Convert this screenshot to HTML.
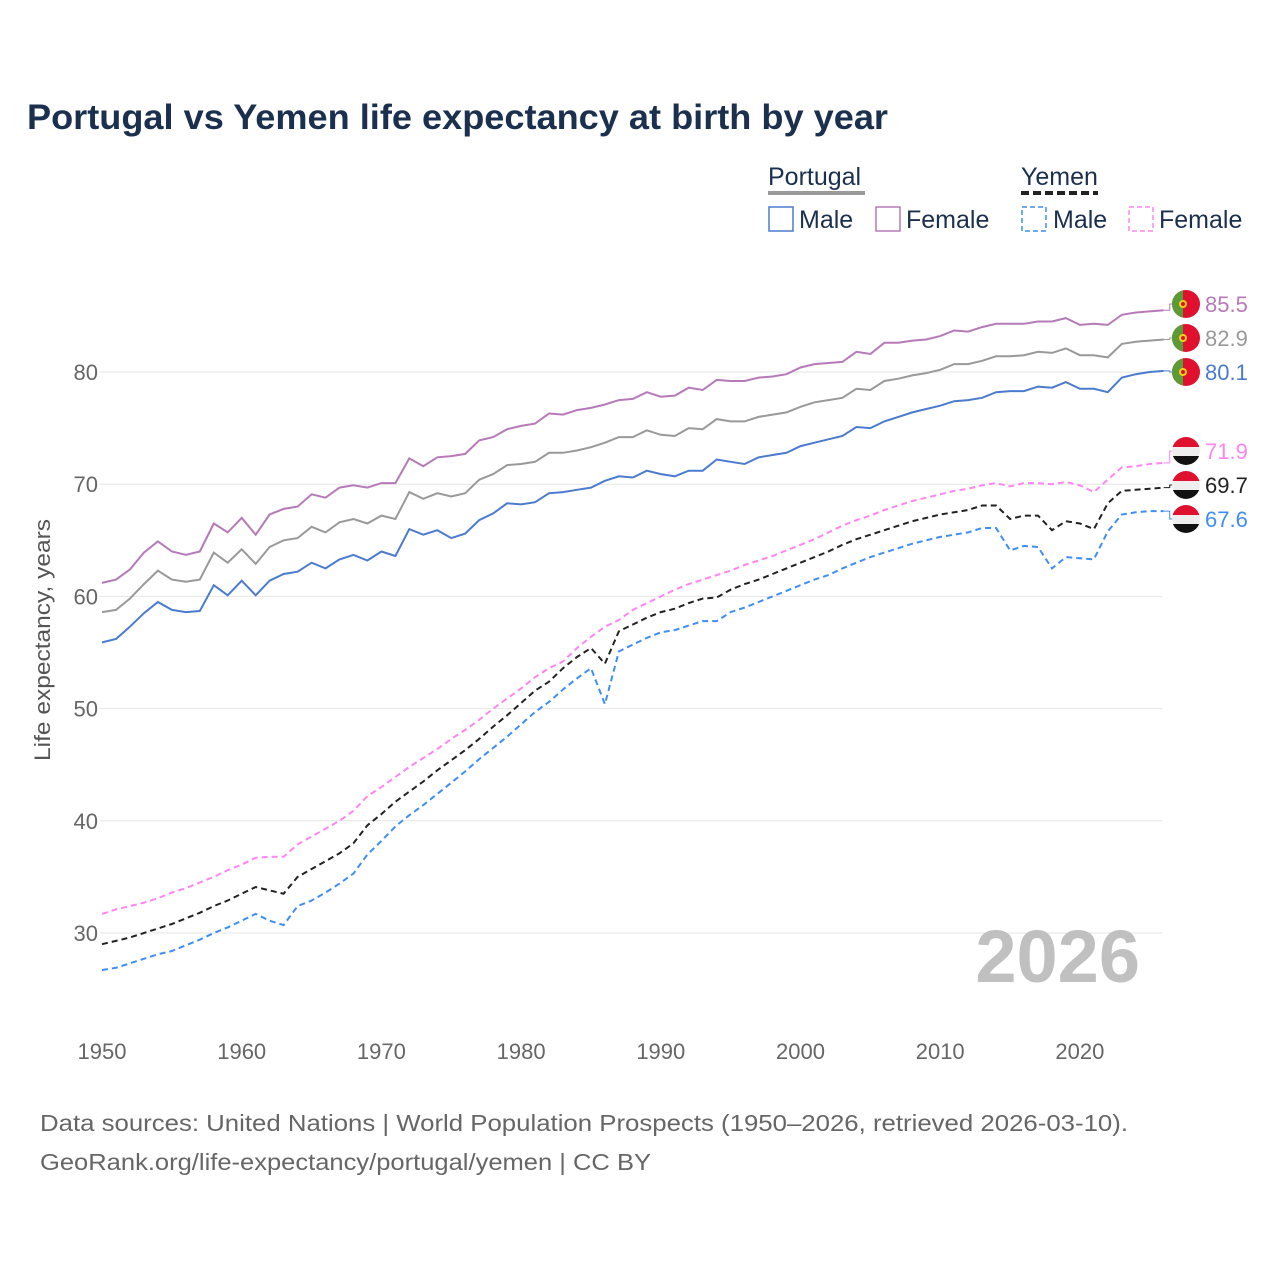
<!DOCTYPE html>
<html><head><meta charset="utf-8"><style>
body{margin:0;background:#fff;font-family:"Liberation Sans",sans-serif}
svg{display:block}
</style></head><body>
<svg id="chart" width="1280" height="1280" viewBox="0 0 1280 1280" xmlns="http://www.w3.org/2000/svg">
<text x="27" y="129" font-size="35" font-weight="bold" fill="#1b2f4e" textLength="861" lengthAdjust="spacingAndGlyphs">Portugal vs Yemen life expectancy at birth by year</text>
<g font-size="25" fill="#1b2f4e">
<text x="768" y="185">Portugal</text>
<line x1="768" y1="193" x2="865" y2="193" stroke="#999" stroke-width="4"/>
<text x="1021" y="185">Yemen</text>
<line x1="1021" y1="193" x2="1098" y2="193" stroke="#222" stroke-width="4" stroke-dasharray="8,4"/>
<g><rect x="769" y="207" width="24" height="24" fill="none" stroke="#4b7bcf" stroke-width="1.5"/><text x="799" y="228">Male</text></g>
<g><rect x="876" y="207" width="24" height="24" fill="none" stroke="#b67ab9" stroke-width="1.5"/><text x="906" y="228">Female</text></g>
<g><rect x="1022" y="207" width="24" height="24" fill="none" stroke="#3f8ef5" stroke-width="1.5" stroke-dasharray="5,3"/><text x="1053" y="228">Male</text></g>
<g><rect x="1129" y="207" width="24" height="24" fill="none" stroke="#ff85f2" stroke-width="1.5" stroke-dasharray="5,3"/><text x="1159" y="228">Female</text></g>
</g>
<text transform="translate(50,640) rotate(-90)" text-anchor="middle" font-size="22" fill="#555" textLength="242" lengthAdjust="spacingAndGlyphs">Life expectancy, years</text>
<g id="grid"></g><g id="series"></g><g id="ends"></g>
<text x="1140" y="982" text-anchor="end" font-size="74" font-weight="bold" fill="#c0c0c0">2026</text>
<text x="40" y="1131" font-size="23" fill="#666" textLength="1088" lengthAdjust="spacingAndGlyphs">Data sources: United Nations | World Population Prospects (1950–2026, retrieved 2026-03-10).</text>
<text x="40" y="1170" font-size="23" fill="#666" textLength="611" lengthAdjust="spacingAndGlyphs">GeoRank.org/life-expectancy/portugal/yemen | CC BY</text>
</svg>
<script>
const yTicks=[30,40,50,60,70,80];
const xTicks=[1950,1960,1970,1980,1990,2000,2010,2020];
const ptFemale=[61.2,61.5,62.4,63.9,64.9,64.0,63.7,64.0,66.5,65.7,67.0,65.5,67.3,67.8,68.0,69.1,68.8,69.7,69.9,69.7,70.1,70.1,72.3,71.6,72.4,72.5,72.7,73.9,74.2,74.9,75.2,75.4,76.3,76.2,76.6,76.8,77.1,77.5,77.6,78.2,77.8,77.9,78.6,78.4,79.3,79.2,79.2,79.5,79.6,79.8,80.4,80.7,80.8,80.9,81.8,81.6,82.6,82.6,82.8,82.9,83.2,83.7,83.6,84.0,84.3,84.3,84.3,84.5,84.5,84.8,84.2,84.3,84.2,85.1,85.3,85.4,85.5];
const ptTotal=[58.6,58.8,59.8,61.1,62.3,61.5,61.3,61.5,63.9,63.0,64.2,62.9,64.4,65.0,65.2,66.2,65.7,66.6,66.9,66.5,67.2,66.9,69.3,68.7,69.2,68.9,69.2,70.4,70.9,71.7,71.8,72.0,72.8,72.8,73.0,73.3,73.7,74.2,74.2,74.8,74.4,74.3,75.0,74.9,75.8,75.6,75.6,76.0,76.2,76.4,76.9,77.3,77.5,77.7,78.5,78.4,79.2,79.4,79.7,79.9,80.2,80.7,80.7,81.0,81.4,81.4,81.5,81.8,81.7,82.1,81.5,81.5,81.3,82.5,82.7,82.8,82.9];
const ptMale=[55.9,56.2,57.3,58.5,59.5,58.8,58.6,58.7,61.0,60.1,61.4,60.1,61.4,62.0,62.2,63.0,62.5,63.3,63.7,63.2,64.0,63.6,66.0,65.5,65.9,65.2,65.6,66.8,67.4,68.3,68.2,68.4,69.2,69.3,69.5,69.7,70.3,70.7,70.6,71.2,70.9,70.7,71.2,71.2,72.2,72.0,71.8,72.4,72.6,72.8,73.4,73.7,74.0,74.3,75.1,75.0,75.6,76.0,76.4,76.7,77.0,77.4,77.5,77.7,78.2,78.3,78.3,78.7,78.6,79.1,78.5,78.5,78.2,79.5,79.8,80.0,80.1];
const yeFemale=[31.7,32.1,32.4,32.7,33.1,33.6,34.0,34.5,35.0,35.6,36.1,36.7,36.8,36.8,37.9,38.6,39.3,40.0,40.9,42.2,43.0,43.9,44.8,45.6,46.4,47.3,48.1,49.0,50.0,50.9,51.8,52.8,53.6,54.2,55.4,56.4,57.3,57.9,58.8,59.4,60.0,60.6,61.1,61.5,61.9,62.3,62.8,63.2,63.6,64.1,64.6,65.1,65.7,66.3,66.8,67.2,67.7,68.1,68.5,68.8,69.1,69.4,69.6,69.9,70.1,69.8,70.1,70.1,70.0,70.2,69.9,69.3,70.4,71.5,71.6,71.8,71.9];
const yeTotal=[29.0,29.3,29.6,30.0,30.4,30.8,31.3,31.8,32.4,32.9,33.5,34.1,33.8,33.5,35.0,35.7,36.4,37.1,38.0,39.6,40.6,41.7,42.6,43.5,44.5,45.4,46.3,47.3,48.4,49.4,50.5,51.6,52.4,53.6,54.6,55.4,54.0,56.9,57.5,58.1,58.6,58.9,59.4,59.8,59.9,60.6,61.1,61.5,62.0,62.5,63.0,63.5,64.0,64.6,65.1,65.5,65.9,66.3,66.7,67.0,67.3,67.5,67.7,68.1,68.1,66.9,67.2,67.2,65.9,66.7,66.5,66.0,68.3,69.4,69.5,69.6,69.7];
const yeMale=[26.7,26.9,27.3,27.7,28.1,28.4,28.9,29.4,30.0,30.5,31.1,31.7,31.1,30.7,32.4,32.9,33.6,34.4,35.3,37.0,38.2,39.5,40.5,41.4,42.4,43.4,44.4,45.5,46.5,47.5,48.6,49.7,50.6,51.7,52.7,53.6,50.4,55.1,55.7,56.3,56.8,57.0,57.4,57.8,57.8,58.6,59.0,59.5,60.0,60.5,61.0,61.5,61.9,62.5,63.0,63.5,63.9,64.3,64.7,65.0,65.3,65.5,65.7,66.1,66.1,64.1,64.5,64.4,62.5,63.5,63.4,63.3,65.8,67.3,67.5,67.6,67.6];
const startYear=1950;
const NS='http://www.w3.org/2000/svg';
const X=y=>102+(y-1950)*13.97;
const Y=v=>372+(80-v)*11.22;
function mk(t,a,p){const e=document.createElementNS(NS,t);for(const k in a)e.setAttribute(k,a[k]);p.appendChild(e);return e;}
const grid=document.getElementById('grid');
yTicks.forEach(v=>{
 const l=mk('line',{x1:100,x2:1162,y1:Y(v),y2:Y(v),stroke:'#e6e6e6','stroke-width':1},grid);
 
 
 const t=mk('text',{x:98,y:Y(v)+8,'text-anchor':'end','font-size':22,fill:'#666'},grid);
 t.textContent=v;
 
 
});
xTicks.forEach(yr=>{
 const t=mk('text',{x:X(yr),y:1059,'text-anchor':'middle','font-size':22,fill:'#666'},grid);
 t.textContent=yr;
 
 
});
const series=[
 {d:ptFemale,c:'#b67ab9',dash:null,n:'portugal-female',ly:304,flag:'pt'},
 {d:ptTotal,c:'#999999',dash:null,n:'portugal-total',ly:338,flag:'pt'},
 {d:ptMale,c:'#4b7bcf',dash:null,n:'portugal-male',ly:372,flag:'pt'},
 {d:yeFemale,c:'#ff85f2',dash:'6,4',n:'yemen-female',ly:451,flag:'ye'},
 {d:yeTotal,c:'#222222',dash:'6,4',n:'yemen-total',ly:485,flag:'ye'},
 {d:yeMale,c:'#3f8ef5',dash:'6,4',n:'yemen-male',ly:519,flag:'ye'}
];
const sg=document.getElementById('series'),eg=document.getElementById('ends');
series.forEach(s=>{
 const pts=s.d.map((v,i)=>X(startYear+i).toFixed(1)+','+Y(v).toFixed(1)).join(' ');
 const a={points:pts,fill:'none',stroke:s.c,'stroke-width':2};
 if(s.dash)a['stroke-dasharray']=s.dash;
 const pl=mk('polyline',a,sg);
 
 
 const last=s.d[s.d.length-1];
 const ex=X(startYear+s.d.length-1), ey=Y(last);
 mk('polyline',{points:`${ex},${ey} ${ex+6},${ey} ${ex+6},${s.ly} ${ex+12},${s.ly}`,fill:'none',stroke:s.c,'stroke-width':1},eg);
 const g=mk('g',{},eg);
 
 
 const cx=1186,cy=s.ly,r=14;
 const cid='clip-'+s.n;
 const cp=mk('clipPath',{id:cid},g);mk('circle',{cx,cy,r},cp);
 const fg=mk('g',{'clip-path':`url(#${cid})`},g);
 if(s.flag==='pt'){
  mk('rect',{x:cx-r,y:cy-r,width:2*r,height:2*r,fill:'#e0102f'},fg);
  mk('rect',{x:cx-r,y:cy-r,width:11,height:2*r,fill:'#5a9b35'},fg);
  mk('circle',{cx:cx-3,cy,r:4,fill:'#f5d21a'},fg);
  mk('circle',{cx:cx-3,cy,r:2,fill:'#e0102f'},fg);
 }else{
  mk('rect',{x:cx-r,y:cy-r,width:2*r,height:10,fill:'#e0102f'},fg);
  mk('rect',{x:cx-r,y:cy-4,width:2*r,height:9,fill:'#eeeeee'},fg);
  mk('rect',{x:cx-r,y:cy+5,width:2*r,height:10,fill:'#111'},fg);
 }
 const t=mk('text',{x:1205,y:s.ly+8,'font-size':22,fill:s.c},eg);
 t.textContent=last.toFixed(1);
 
 
});
</script>
</body></html>
